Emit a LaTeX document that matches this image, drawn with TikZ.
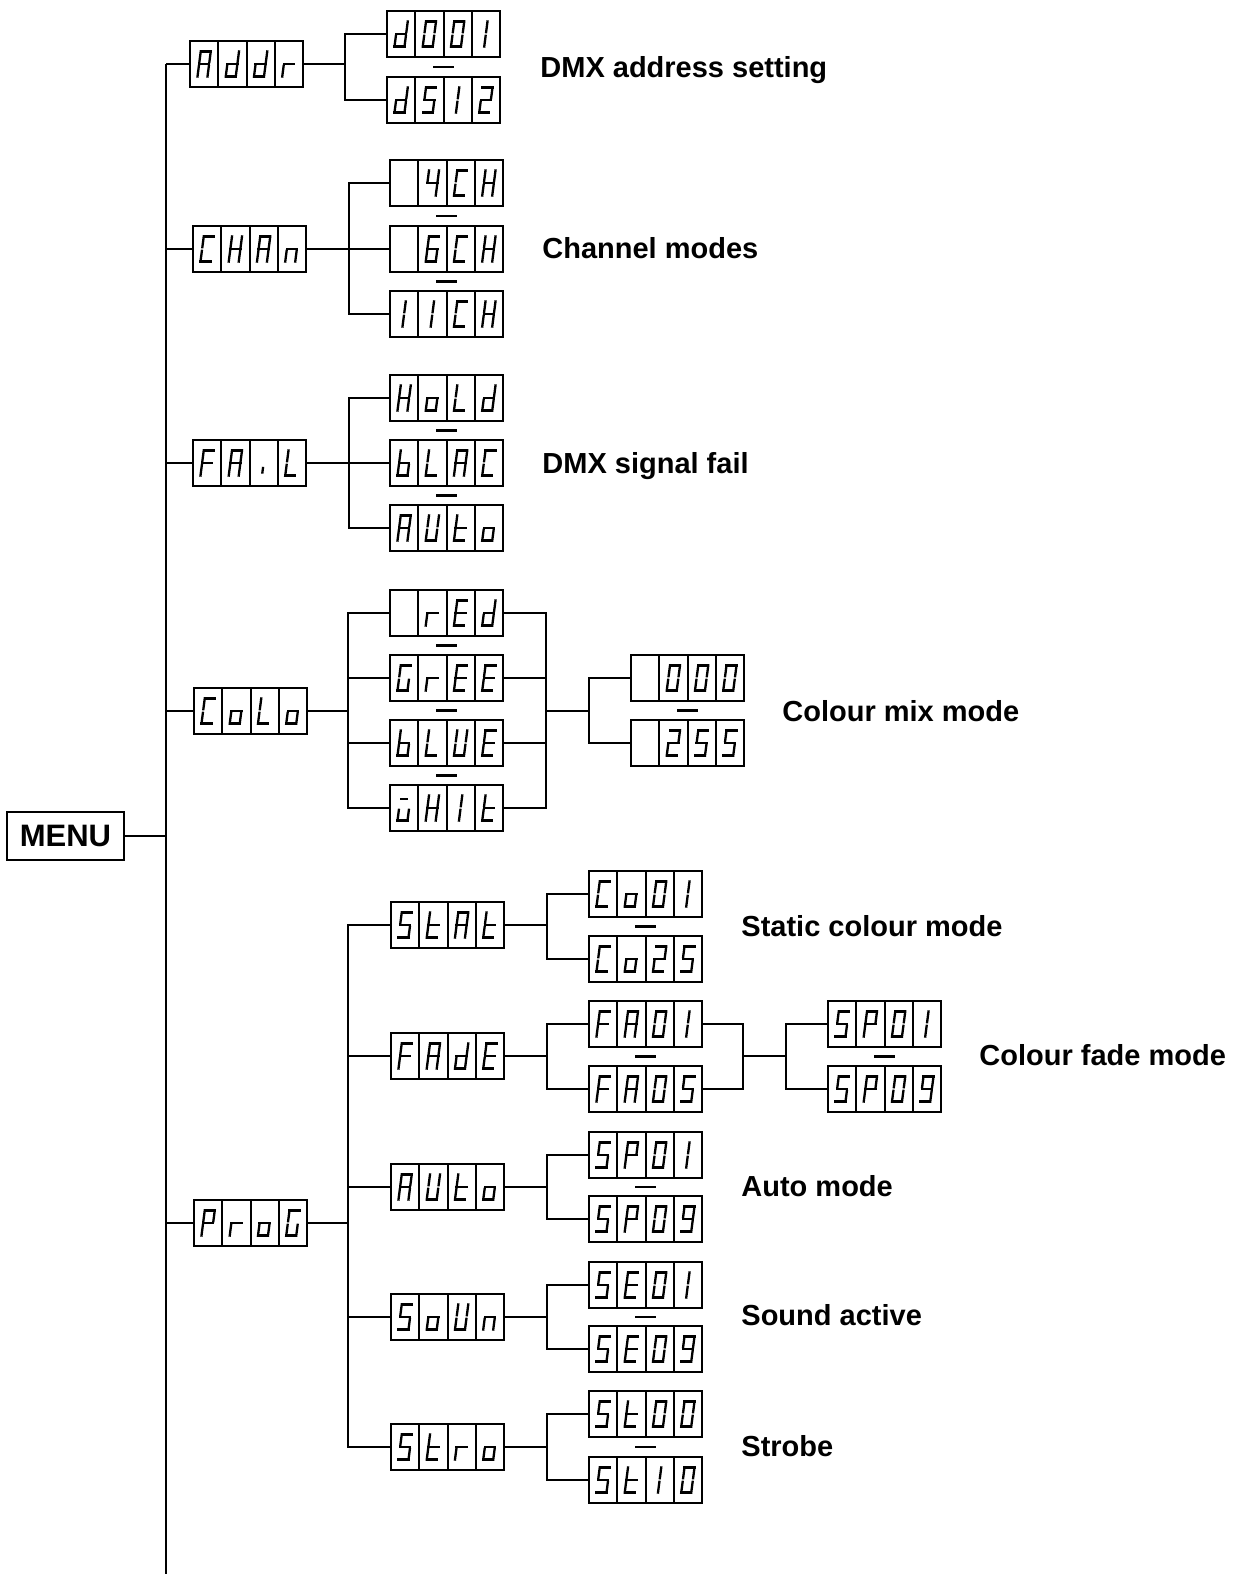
\documentclass[tikz,border=0pt]{standalone}
\usepackage{fontspec}
\setmainfont{Liberation Sans}
\usetikzlibrary{calc}

\newcommand\GW{5}
\newcommand\GH{12.5}
\newcommand\GG{1.8}
\newcommand\segA{\draw (-\GW,-\GH)--(\GW,-\GH);}
\newcommand\segB{\draw (\GW,-\GH)--(\GW,-\GG);}
\newcommand\segC{\draw (\GW,\GG)--(\GW,\GH);}
\newcommand\segD{\draw (-\GW,\GH)--(\GW,\GH);}
\newcommand\segE{\draw (-\GW,\GG)--(-\GW,\GH);}
\newcommand\segF{\draw (-\GW,-\GH)--(-\GW,-\GG);}
\newcommand\segG{\draw (-\GW,0)--(\GW,0);}
\newcommand\segMid{\draw (0,-\GH)--(0,-\GG); \draw (0,\GG)--(0,\GH);}
\newcommand\defglyph[2]{\expandafter\def\csname gl@#1\endcsname{#2}}
\defglyph{x}{}
\defglyph{A}{\segA\segB\segC\segE\segF\segG}
\defglyph{d}{\segB\segC\segD\segE\segG}
\defglyph{r}{\segE\segG}
\defglyph{0}{\segA\segB\segC\segD\segE\segF}
\defglyph{1}{\segMid}
\defglyph{5}{\segA\segC\segD\segF\segG}
\defglyph{2}{\segA\segB\segD\segE\segG}
\defglyph{4}{\segB\segC\segF\segG}
\defglyph{C}{\segA\segD\segE\segF}
\defglyph{H}{\segB\segC\segE\segF\segG}
\defglyph{n}{\segC\segE\segG}
\defglyph{6}{\segA\segC\segD\segE\segF\segG}
\defglyph{F}{\segA\segE\segF\segG}
\defglyph{i}{\draw (0,5)--(0,9.5);}
\defglyph{L}{\segD\segE\segF}
\defglyph{o}{\segC\segD\segE\segG}
\defglyph{b}{\segC\segD\segE\segF\segG}
\defglyph{U}{\segB\segC\segD\segE\segF}
\defglyph{t}{\segD\segE\segF\segG}
\defglyph{E}{\segA\segD\segE\segF\segG}
\defglyph{G}{\segA\segC\segD\segE\segF}
\defglyph{w}{\segC\segD\segE\draw (-4.5,-9)--(2,-9);}
\defglyph{P}{\segA\segB\segE\segF\segG}
\defglyph{9}{\segA\segB\segC\segD\segF\segG}

\tikzset{
  dispbox/.style={draw,line width=1pt,minimum width=56.5pt,minimum height=23pt,inner sep=0pt,outer sep=0pt},
  boxline/.style={line width=1pt},
  glyphline/.style={line width=1.15pt,line cap=rect},
  conn/.style={line width=1.15pt},
  mainline/.style={line width=1.35pt},
  lbl/.style={font=\bfseries\fontsize{14.5pt}{16pt}\selectfont,inner sep=0pt,anchor=base west},
  menubox/.style={draw,line width=1.1pt,minimum width=58.5pt,minimum height=24pt,inner sep=0pt,outer sep=0pt,font=\bfseries\fontsize{15.5pt}{17pt}\selectfont}
}

\newcommand\dbox[4]{%
  \node[dispbox,anchor=west] (#1) at (#2,#3) {};
  \foreach \k in {1,2,3}{\draw[boxline] ({#2+28.25*\k},{#3-23}) -- ({#2+28.25*\k},{#3+23});}
  \foreach \ch [count=\k] in {#4}{%
    \begin{scope}[shift={({#2+28.25*(\k-0.5)},#3)},xslant=0.13,glyphline]
      \csname gl@\ch\endcsname
    \end{scope}}%
}
\newcommand\sepmark[2]{\draw[conn] ($(#1.south)!0.5!(#2.north)+(-10.5,0)$) -- ($(#1.south)!0.5!(#2.north)+(10.5,0)$);}

\begin{document}
\begin{tikzpicture}[x=0.5pt,y=-0.5pt]
\useasboundingbox (0,0) rectangle (1233,1574);

% main spine
\coordinate (mtop) at (166,64);
\coordinate (mbot) at (166,1574);
\draw[mainline] (mtop) -- (mbot);

\node[menubox] (menu) at (65.5,836) {MENU};
\draw[conn] (menu.east) -- (menu.east -| mtop);

% ---------- Addr
\dbox{addr}{190}{64}{A,d,d,r}
\dbox{d001}{387}{34}{d,0,0,1}
\dbox{d512}{387}{100}{d,5,1,2}
\sepmark{d001}{d512}
\coordinate (jA) at (345,64);
\draw[conn] (addr.west -| mtop) -- (addr.west);
\draw[conn] (addr.east) -- (jA);
\draw[conn] (d001.west) -| (jA) |- (d512.west);
\node[lbl] (tA) at (540,77) {DMX address setting};

% ---------- CHAn
\dbox{chan}{193}{249}{C,H,A,n}
\dbox{ch4}{390}{183}{x,4,C,H}
\dbox{ch6}{390}{249}{x,6,C,H}
\dbox{ch11}{390}{314}{1,1,C,H}
\sepmark{ch4}{ch6}
\sepmark{ch6}{ch11}
\coordinate (jC) at (349,249);
\draw[conn] (chan.west -| mtop) -- (chan.west);
\draw[conn] (chan.east) -- (jC);
\draw[conn] (ch4.west) -| (jC) |- (ch11.west);
\draw[conn] (jC) -- (ch6.west);
\node[lbl] (tC) at (542,258.5) {Channel modes};

% ---------- FAiL
\dbox{fail}{193}{463}{F,A,i,L}
\dbox{hold}{390}{398}{H,o,L,d}
\dbox{blac}{390}{463}{b,L,A,C}
\dbox{auto}{390}{528}{A,U,t,o}
\sepmark{hold}{blac}
\sepmark{blac}{auto}
\coordinate (jF) at (349,463);
\draw[conn] (fail.west -| mtop) -- (fail.west);
\draw[conn] (fail.east) -- (jF);
\draw[conn] (hold.west) -| (jF) |- (auto.west);
\draw[conn] (jF) -- (blac.west);
\node[lbl] (tF) at (542,473.5) {DMX signal fail};

% ---------- CoLo
\dbox{colo}{194}{711}{C,o,L,o}
\dbox{red}{390}{613}{x,r,E,d}
\dbox{gree}{390}{678}{G,r,E,E}
\dbox{blue}{390}{743}{b,L,U,E}
\dbox{whit}{390}{808}{w,H,1,t}
\sepmark{red}{gree}
\sepmark{gree}{blue}
\sepmark{blue}{whit}
\coordinate (jL) at (348,711);
\coordinate (kL) at (546,711);
\coordinate (kL2) at (589,711);
\draw[conn] (colo.west -| mtop) -- (colo.west);
\draw[conn] (colo.east) -- (jL);
\draw[conn] (red.west) -| (jL) |- (whit.west);
\draw[conn] (jL |- gree.west) -- (gree.west);
\draw[conn] (jL |- blue.west) -- (blue.west);
\draw[conn] (red.east) -| (kL) |- (whit.east);
\draw[conn] (gree.east) -- (kL |- gree.east);
\draw[conn] (blue.east) -- (kL |- blue.east);
\draw[conn] (kL) -- (kL2);
\dbox{v000}{631}{678}{x,0,0,0}
\dbox{v255}{631}{743}{x,2,5,5}
\sepmark{v000}{v255}
\draw[conn] (v000.west) -| (kL2) |- (v255.west);
\node[lbl] (tL) at (782,721.5) {Colour mix mode};

% ---------- ProG
\dbox{prog}{194}{1223}{P,r,o,G}
\coordinate (jP) at (348,1223);
\draw[conn] (prog.west -| mtop) -- (prog.west);
\draw[conn] (prog.east) -- (jP);

\dbox{stat}{391}{925}{5,t,A,t}
\dbox{fade}{391}{1056}{F,A,d,E}
\dbox{pauto}{391}{1187}{A,U,t,o}
\dbox{soun}{391}{1317}{5,o,U,n}
\dbox{stro}{391}{1447}{5,t,r,o}
\draw[conn] (stat.west) -| (jP) |- (stro.west);
\draw[conn] (jP |- fade.west) -- (fade.west);
\draw[conn] (jP |- pauto.west) -- (pauto.west);
\draw[conn] (jP |- soun.west) -- (soun.west);

% StAt
\dbox{co01}{589}{894}{C,o,0,1}
\dbox{co25}{589}{959}{C,o,2,5}
\sepmark{co01}{co25}
\coordinate (jS) at (547,925);
\draw[conn] (stat.east) -- (jS);
\draw[conn] (co01.west) -| (jS) |- (co25.west);
\node[lbl] (tS) at (741,936.5) {Static colour mode};

% FAdE
\dbox{fa01}{589}{1024}{F,A,0,1}
\dbox{fa05}{589}{1089}{F,A,0,5}
\sepmark{fa01}{fa05}
\coordinate (jD) at (547,1056);
\draw[conn] (fade.east) -- (jD);
\draw[conn] (fa01.west) -| (jD) |- (fa05.west);
\coordinate (kD) at (743,1056);
\coordinate (kD2) at (786,1056);
\draw[conn] (fa01.east) -| (kD) |- (fa05.east);
\draw[conn] (kD) -- (kD2);
\dbox{fsp01}{828}{1024}{5,P,0,1}
\dbox{fsp09}{828}{1089}{5,P,0,9}
\sepmark{fsp01}{fsp09}
\draw[conn] (fsp01.west) -| (kD2) |- (fsp09.west);
\node[lbl] (tD) at (979,1065.5) {Colour fade mode};

% AUto
\dbox{sp01}{589}{1155}{5,P,0,1}
\dbox{sp09}{589}{1219}{5,P,0,9}
\sepmark{sp01}{sp09}
\coordinate (jU) at (547,1187);
\draw[conn] (pauto.east) -- (jU);
\draw[conn] (sp01.west) -| (jU) |- (sp09.west);
\node[lbl] (tU) at (741,1196.5) {Auto mode};

% SoUn
\dbox{se01}{589}{1285}{5,E,0,1}
\dbox{se09}{589}{1349}{5,E,0,9}
\sepmark{se01}{se09}
\coordinate (jN) at (547,1317);
\draw[conn] (soun.east) -- (jN);
\draw[conn] (se01.west) -| (jN) |- (se09.west);
\node[lbl] (tN) at (741,1325.5) {Sound active};

% Stro
\dbox{st00}{589}{1414}{5,t,0,0}
\dbox{st10}{589}{1480}{5,t,1,0}
\sepmark{st00}{st10}
\coordinate (jR) at (547,1447);
\draw[conn] (stro.east) -- (jR);
\draw[conn] (st00.west) -| (jR) |- (st10.west);
\node[lbl] (tR) at (741,1456.5) {Strobe};
\end{tikzpicture}
\end{document}
